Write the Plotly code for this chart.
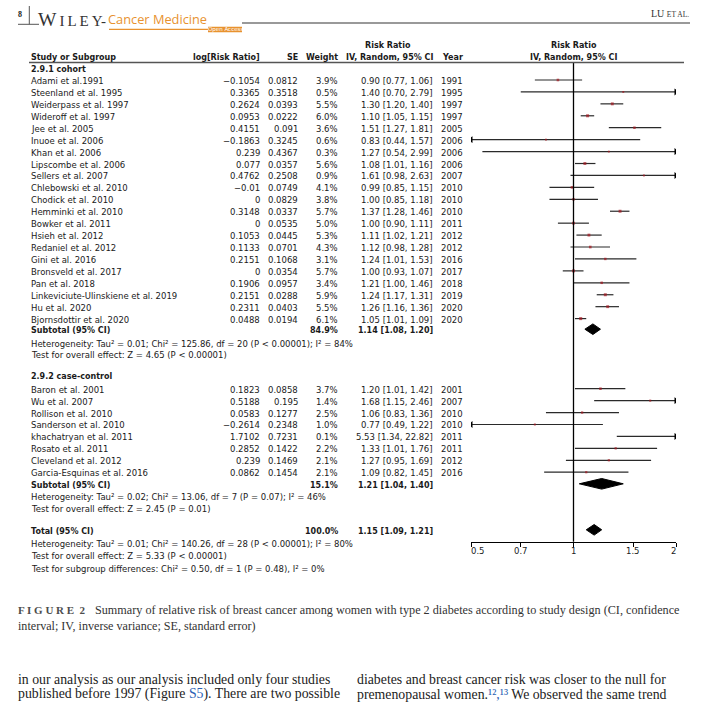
import math
import plotly.graph_objects as go

# ---- data -------------------------------------------------------------
cohort_studies = ["Adami et al.1991", "Steenland et al. 1995", "Weiderpass et al. 1997",
                  "Wideroff et al. 1997", "Jee et al. 2005", "Inuoe et al. 2006",
                  "Khan et al. 2006", "Lipscombe et al. 2006", "Sellers et al. 2007",
                  "Chlebowski et al. 2010", "Chodick et al. 2010", "Hemminki et al. 2010",
                  "Bowker et al. 2011", "Hsieh et al. 2012", "Redaniel et al. 2012",
                  "Gini et al. 2016", "Bronsveld et al. 2017", "Pan et al. 2018",
                  "Linkeviciute-Ulinskiene et al. 2019", "Hu et al. 2020",
                  "Bjornsdottir et al. 2020"]
cohort_log_rr = [-0.1054, 0.3365, 0.2624, 0.0953, 0.4151, -0.1863, 0.239, 0.077, 0.4762,
                 -0.01, 0, 0.3148, 0, 0.1053, 0.1133, 0.2151, 0, 0.1906, 0.2151, 0.2311, 0.0488]
cohort_se = [0.0812, 0.3518, 0.0393, 0.0222, 0.091, 0.3245, 0.4367, 0.0357, 0.2508,
             0.0749, 0.0829, 0.0337, 0.0535, 0.0445, 0.0701, 0.1068, 0.0354, 0.0957,
             0.0288, 0.0403, 0.0194]
cohort_weight = [3.9, 0.5, 5.5, 6.0, 3.6, 0.6, 0.3, 5.6, 0.9, 4.1, 3.8, 5.7, 5.0, 5.3,
                 4.3, 3.1, 5.7, 3.4, 5.9, 5.5, 6.1]
cohort_rr = [0.90, 1.40, 1.30, 1.10, 1.51, 0.83, 1.27, 1.08, 1.61, 0.99, 1.00, 1.37, 1.00,
             1.11, 1.12, 1.24, 1.00, 1.21, 1.24, 1.26, 1.05]
cohort_lo = [0.77, 0.70, 1.20, 1.05, 1.27, 0.44, 0.54, 1.01, 0.98, 0.85, 0.85, 1.28, 0.90,
             1.02, 0.98, 1.01, 0.93, 1.00, 1.17, 1.16, 1.01]
cohort_hi = [1.06, 2.79, 1.40, 1.15, 1.81, 1.57, 2.99, 1.16, 2.63, 1.15, 1.18, 1.46, 1.11,
             1.21, 1.28, 1.53, 1.07, 1.46, 1.31, 1.36, 1.09]
cohort_year = [1991, 1995, 1997, 1997, 2005, 2006, 2006, 2006, 2007, 2010, 2010, 2010, 2011,
               2012, 2012, 2016, 2017, 2018, 2019, 2020, 2020]

cc_studies = ["Baron et al. 2001", "Wu et al. 2007", "Rollison et al. 2010",
              "Sanderson et al. 2010", "khachatryan et al. 2011", "Rosato et al. 2011",
              "Cleveland et al. 2012", "Garcia-Esquinas et al. 2016"]
cc_log_rr = [0.1823, 0.5188, 0.0583, -0.2614, 1.7102, 0.2852, 0.239, 0.0862]
cc_se = [0.0858, 0.195, 0.1277, 0.2348, 0.7231, 0.1422, 0.1469, 0.1454]
cc_weight = [3.7, 1.4, 2.5, 1.0, 0.1, 2.2, 2.1, 2.1]
cc_rr = [1.20, 1.68, 1.06, 0.77, 5.53, 1.33, 1.27, 1.09]
cc_lo = [1.01, 1.15, 0.83, 0.49, 1.34, 1.01, 0.95, 0.82]
cc_hi = [1.42, 2.46, 1.36, 1.22, 22.82, 1.76, 1.69, 1.45]
cc_year = [2001, 2007, 2010, 2010, 2011, 2011, 2012, 2016]

# pooled estimates: weight, rr, lo, hi
pooled_labels = ["Subtotal (95% CI)", "Subtotal (95% CI)", "Total (95% CI)"]
pooled_weight = [84.9, 15.1, 100.0]
pooled_rr = [1.14, 1.21, 1.15]
pooled_lo = [1.08, 1.04, 1.09]
pooled_hi = [1.20, 1.40, 1.21]

cohort_stats = ["Heterogeneity: Tau² = 0.01; Chi² = 125.86, df = 20 (P < 0.00001); I² = 84%",
                "Test for overall effect: Z = 4.65 (P < 0.00001)"]
cc_stats = ["Heterogeneity: Tau² = 0.02; Chi² = 13.06, df = 7 (P = 0.07); I² = 46%",
            "Test for overall effect: Z = 2.45 (P = 0.01)"]
total_stats = ["Heterogeneity: Tau² = 0.01; Chi² = 140.26, df = 28 (P < 0.00001); I² = 80%",
               "Test for overall effect: Z = 5.33 (P < 0.00001)",
               "Test for subgroup differences: Chi² = 0.50, df = 1 (P = 0.48), I² = 0%"]

axis_ticks = [0.5, 0.7, 1, 1.5, 2]
axis_labels = ["0.5", "0.7", "1", "1.5", "2"]

# ---- page geometry (pixels) ---------------------------------------------
W = H = 702
FONT = "DejaVu Sans"
SERIF = "Liberation Serif"
INK = "#1a1a1a"
MARK = "#a3171f"
LINE = "#2a2a2a"
ORANGE = "#e8922f"
BLUE = "#2b5fb4"
XMIN, XMAX = axis_ticks[0], axis_ticks[-1]
COL_NAME, COL_LOG, COL_SE, COL_W, COL_CI, COL_YR = 31, 260, 298, 338, 433, 463
STEP = 11.93
AXIS_Y = 541.7
TXT = 8.5    # regular table text
BTXT = 8     # bold table text
BODY = 13.8  # running text below the figure

annotations = []
shapes = []


def fx(x):
    return x / W


def label(x, y, text, anchor="left", size=TXT, family=FONT, color=INK, bold=False):
    if bold:
        text = f"<b>{text}</b>"
    annotations.append(dict(x=fx(x), y=y, xref="paper", yref="y", text=text,
                            showarrow=False, xanchor=anchor, yanchor="middle",
                            borderpad=0, borderwidth=0,
                            font=dict(family=family, size=size, color=color)))


def num(v):
    return f"{v:g}".replace("-", "−")


def ci_text(rr, lo, hi):
    return f"{rr:.2f} [{lo:.2f}, {hi:.2f}]"


fig = go.Figure()

line_x, line_y, sq_x, sq_y, sq_s = [], [], [], [], []
arr_r_y, arr_l_y = [], []


def study_rows(names, lrr, se, wt, rr, lo, hi, yr, y0):
    for i, name in enumerate(names):
        y = y0 + i * STEP
        label(COL_NAME, y, name)
        label(COL_LOG, y, num(lrr[i]), "right")
        label(COL_SE, y, num(se[i]), "right")
        label(COL_W, y, f"{wt[i]:.1f}%", "right")
        label(COL_CI, y, ci_text(rr[i], lo[i], hi[i]), "right")
        label(COL_YR, y, str(yr[i]), "right")
        ym = y - 1
        line_x.extend([max(lo[i], XMIN), min(hi[i], XMAX), None])
        line_y.extend([ym, ym, None])
        if XMIN <= rr[i] <= XMAX:
            sq_x.append(rr[i])
            sq_y.append(ym)
            sq_s.append(1.8 + 0.2 * wt[i])
        if hi[i] > XMAX:
            arr_r_y.append(ym)
        if lo[i] < XMIN:
            arr_l_y.append(ym)
    return y0 + (len(names) - 1) * STEP


def pooled_row(k, y, color):
    label(COL_NAME, y, pooled_labels[k], size=BTXT, bold=True)
    label(COL_W, y, f"{pooled_weight[k]:.1f}%", "right", size=BTXT, bold=True)
    label(COL_CI, y, ci_text(pooled_rr[k], pooled_lo[k], pooled_hi[k]), "right",
          size=BTXT, bold=True)
    ym, h = y - 1.2, 5.3
    fig.add_trace(go.Scatter(
        x=[pooled_lo[k], pooled_rr[k], pooled_hi[k], pooled_rr[k], pooled_lo[k]],
        y=[ym, ym - h, ym, ym + h, ym], mode="lines", fill="toself",
        fillcolor=color, line=dict(color=color, width=1), hoverinfo="skip"))


# headers
label(388, 45, "Risk Ratio", "center", size=BTXT, bold=True)
label(573.5, 45, "Risk Ratio", "center", size=BTXT, bold=True)
label(COL_NAME, 57, "Study or Subgroup", size=BTXT, bold=True)
label(COL_LOG, 57, "log[Risk Ratio]", "right", size=BTXT, bold=True)
label(COL_SE, 57, "SE", "right", size=BTXT, bold=True)
label(COL_W, 57, "Weight", "right", size=BTXT, bold=True)
label(COL_CI, 57, "IV, Random, 95% CI", "right", size=BTXT, bold=True)
label(COL_YR, 57, "Year", "right", size=BTXT, bold=True)
label(573.5, 57, "IV, Random, 95% CI", "center", size=BTXT, bold=True)
shapes.append(dict(type="line", xref="paper", yref="y", x0=fx(29), x1=fx(684),
                   y0=62.5, y1=62.5, line=dict(color="#555", width=1.3)))

# cohort block
label(COL_NAME, 69, "2.9.1 cohort", size=BTXT, bold=True)
y_last = study_rows(cohort_studies, cohort_log_rr, cohort_se, cohort_weight, cohort_rr,
                    cohort_lo, cohort_hi, cohort_year, 81)
y_sub = y_last + 10.8
pooled_row(0, y_sub, "#000")
for j, s in enumerate(cohort_stats):
    label(COL_NAME, y_sub + 13.5 + j * 11.5, s)

# case-control block
y_hdr = y_sub + 46.5
label(COL_NAME, y_hdr, "2.9.2 case-control", size=BTXT, bold=True)
y_last = study_rows(cc_studies, cc_log_rr, cc_se, cc_weight, cc_rr, cc_lo, cc_hi,
                    cc_year, y_hdr + 12.8)
y_sub2 = y_last + 11.8
pooled_row(1, y_sub2, "#000")
for j, s in enumerate(cc_stats):
    label(COL_NAME, y_sub2 + 12 + j * 11.5, s)

# total
y_tot = y_sub2 + 46
pooled_row(2, y_tot, "#000")
for j, s in enumerate(total_stats):
    label(COL_NAME, y_tot + 12.5 + j * 12.5, s)

# study CIs, squares and arrows
fig.add_trace(go.Scatter(x=line_x, y=line_y, mode="lines",
                         line=dict(color=LINE, width=1.2), hoverinfo="skip"))
fig.add_trace(go.Scatter(x=sq_x, y=sq_y, mode="markers",
                         marker=dict(symbol="square", size=sq_s, color=MARK, line=dict(width=0)),
                         hoverinfo="skip"))
fig.add_trace(go.Scatter(x=[XMAX] * len(arr_r_y), y=arr_r_y, mode="markers",
                         marker=dict(symbol="triangle-right", size=6, color="#000"),
                         hoverinfo="skip"))
fig.add_trace(go.Scatter(x=[XMIN] * len(arr_l_y), y=arr_l_y, mode="markers",
                         marker=dict(symbol="triangle-left", size=6, color="#000"),
                         hoverinfo="skip"))
# line of no effect
fig.add_trace(go.Scatter(x=[1, 1], y=[62.5, AXIS_Y], mode="lines",
                         line=dict(color="#000", width=1.3), hoverinfo="skip"))

# tick labels
for i, (v, t) in enumerate(zip(axis_ticks, axis_labels)):
    anchor = "left" if i == 0 else ("right" if i == len(axis_ticks) - 1 else "center")
    annotations.append(dict(x=math.log10(v), y=AXIS_Y + 9, xref="x", yref="y", text=t,
                            showarrow=False, xanchor=anchor, yanchor="middle",
                            borderpad=0, borderwidth=0,
                            font=dict(family=FONT, size=8.5, color=INK)))

# ---- page furniture ----------------------------------------------------
label(20, 14, "8", "center", size=8, family=SERIF, bold=True)
shapes.append(dict(type="line", xref="paper", yref="y", x0=fx(29.3), x1=fx(29.3),
                   y0=6, y1=24.3, line=dict(color="#555", width=1)))
shapes.append(dict(type="line", xref="paper", yref="y", x0=fx(18), x1=fx(39),
                   y0=24.3, y1=24.3, line=dict(color="#555", width=1)))
label(38, 19, "W<span style='font-size:15px'>\u2009I\u2009L\u2009E\u2009Y</span>"
      "<span style='font-size:15px'>-</span>", size=19.5, family=SERIF, color="#333")
label(108, 18.5, "Cancer Medicine", size=12.8, family="Open Sans", color=ORANGE)
shapes.append(dict(type="line", xref="paper", yref="y", x0=fx(109), x1=fx(209),
                   y0=29.4, y1=29.4, line=dict(color=ORANGE, width=1.3)))
shapes.append(dict(type="rect", xref="paper", yref="y", x0=fx(208), x1=fx(242),
                   y0=26.8, y1=32.2, line=dict(width=0), fillcolor=ORANGE))
label(225, 29.6, "Open Access", "center", size=5.5, family=FONT, color="#fff")
shapes.append(dict(type="line", xref="paper", yref="y", x0=fx(242), x1=fx(690),
                   y0=23, y1=23, line=dict(color="#777", width=1.3)))
label(689, 13.5, "LU <span style='font-size:7.5px'>ET AL.</span>", "right", size=10,
      family=SERIF, color="#333")

# caption and body text
label(18, 610, "<b>F I G U R E  2</b>", size=11, family=SERIF, color="#4d4d4d")
label(95, 610, "Summary of relative risk of breast cancer among women with type 2 diabetes "
      "according to study design (CI, confidence", size=12.2, family=SERIF, color="#333")
label(18, 626, "interval; IV, inverse variance; SE, standard error)", size=12.1,
      family=SERIF, color="#333")
label(18, 679, "in our analysis as our analysis included only four studies", size=BODY,
      family=SERIF, color="#222")
label(18, 694, f"published before 1997 (Figure <span style='color:{BLUE}'>S5</span>). "
      "There are two possible", size=BODY, family=SERIF, color="#222")
label(357, 679, "diabetes and breast cancer risk was closer to the null for", size=BODY,
      family=SERIF, color="#222")
label(357, 694, f"premenopausal women.<span style='color:{BLUE}'>¹²,¹³</span> "
      "We observed the same trend", size=BODY, family=SERIF, color="#222")

fig.update_layout(
    width=W, height=H, margin=dict(l=0, r=0, t=0, b=0),
    paper_bgcolor="white", plot_bgcolor="rgba(0,0,0,0)",
    showlegend=False,
    xaxis=dict(type="log", range=[math.log10(XMIN), math.log10(XMAX)],
               domain=[471 / W, 676 / W], anchor="free", position=1 - AXIS_Y / H,
               showline=True, linecolor="#000", linewidth=1.2,
               ticks="outside", ticklen=4, tickwidth=1.2, tickcolor="#000",
               tickvals=axis_ticks, showticklabels=False, showgrid=False, zeroline=False),
    yaxis=dict(range=[H, 0], domain=[0, 1], visible=False),
    annotations=annotations,
    shapes=shapes,
)

# the page body carries a default 8px margin; drop it so the figure fills the window
fig.write_html("out.html", config={"displayModeBar": False},
               post_script="document.body.style.margin='0';"
                           "document.body.style.overflow='hidden';")
